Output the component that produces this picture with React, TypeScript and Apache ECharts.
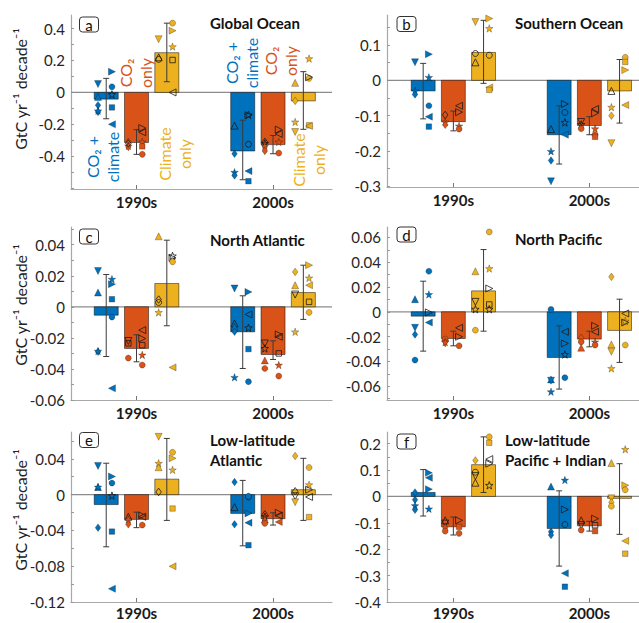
import React, { useEffect, useRef } from "react";
import * as echarts from "echarts";

// ---------- data ----------
const decades = ["1990s", "2000s"];
const experimentLabels = ["CO₂ +\nclimate", "CO₂\nonly", "Climate\nonly"];
const yAxisTitle = "GtC yr⁻¹ decade⁻¹";
const panelLetters = ["a", "b", "c", "d", "e", "f"];
const panelTitles = [
  "Global Ocean",
  "Southern Ocean",
  "North Atlantic",
  "North Pacific",
  "Low-latitude\nAtlantic",
  "Low-latitude\nPacific + Indian",
];

// bar order: 1990s [CO2+climate, CO2 only, Climate only], 2000s [same]
type Pt = [number, "L" | "R", string, number];

const globalBars = [-0.042, -0.314, 0.249, -0.367, -0.327, -0.053];
const globalLow = [-0.165, -0.388, 0.067, -0.547, -0.384, -0.231];
const globalHigh = [0.088, -0.233, 0.434, -0.174, -0.27, 0.13];
const globalPoints: Pt[] = [
  [0, "L", "vF", 0.052], [0, "L", "^F", -0.028], [0, "L", "dF", -0.08], [0, "L", "dF", -0.122], [0, "L", "pF", -0.115],
  [0, "R", ">F", 0.13], [0, "R", "oF", 0.035], [0, "R", "pH", -0.013], [0, "R", "sF", -0.094], [0, "R", "<F", -0.2],
  [1, "L", "dF", -0.31], [1, "L", "pF", -0.335], [1, "L", "dF", -0.342], [1, "L", "dH", -0.32],
  [1, "R", ">H", -0.223], [1, "R", "<H", -0.25], [1, "R", "pF", -0.31], [1, "R", "sF", -0.338], [1, "R", "oF", -0.388],
  [2, "L", "vF", 0.333], [2, "L", "^H", 0.22], [2, "L", "oH", 0.207],
  [2, "R", "oF", 0.434], [2, "R", ">F", 0.387], [2, "R", "pF", 0.287], [2, "R", "sH", 0.203], [2, "R", "<H", 0.0],
  [3, "L", "^H", -0.208], [3, "L", "dF", -0.384], [3, "L", "pF", -0.5], [3, "L", "dF", -0.52],
  [3, "R", ">H", -0.143], [3, "R", "pH", -0.14], [3, "R", "oH", -0.325], [3, "R", "<F", -0.493], [3, "R", "sF", -0.556],
  [4, "L", "dH", -0.31], [4, "L", "pH", -0.32], [4, "L", "pF", -0.335], [4, "L", "dF", -0.367],
  [4, "R", ">H", -0.233], [4, "R", "<H", -0.26], [4, "R", "pF", -0.31], [4, "R", "oF", -0.38],
  [5, "L", "^F", 0.06], [5, "L", "dF", -0.053], [5, "L", "pF", -0.185], [5, "L", "vF", -0.248],
  [5, "R", "pF", 0.212], [5, "R", "oF", 0.088], [5, "R", ">H", 0.095], [5, "R", "sF", -0.206], [5, "R", "<F", -0.21],
];

const southernBars = [-0.03, -0.117, 0.079, -0.154, -0.128, -0.03];
const southernLow = [-0.109, -0.143, -0.0085, -0.237, -0.154, -0.121];
const southernHigh = [0.048, -0.087, 0.17, -0.072, -0.103, 0.059];
const southernPoints: Pt[] = [
  [0, "L", "vF", 0.051], [0, "L", "pF", -0.03], [0, "L", "dF", -0.04],
  [0, "R", ">F", 0.074], [0, "R", "pF", 0.0085], [0, "R", "oF", -0.072], [0, "R", "<F", -0.103], [0, "R", "sF", -0.131],
  [1, "L", "dH", -0.098], [1, "L", "pF", -0.118], [1, "L", "dF", -0.126],
  [1, "R", "<H", -0.072], [1, "R", ">H", -0.09], [1, "R", "pF", -0.129], [1, "R", "oF", -0.138],
  [2, "L", "vF", 0.165], [2, "L", "oH", 0.076], [2, "L", "^H", 0.051],
  [2, "R", ">F", 0.175], [2, "R", "pF", 0.147], [2, "R", "oH", 0.071], [2, "R", "<F", -0.02], [2, "R", "sF", -0.027],
  [3, "L", "^H", -0.138], [3, "L", "pF", -0.201], [3, "L", "dF", -0.227], [3, "L", "vF", -0.286],
  [3, "R", ">H", -0.067], [3, "R", "oH", -0.091], [3, "R", "pH", -0.119], [3, "R", "<F", -0.154],
  [4, "L", "vH", -0.118], [4, "L", "pH", -0.125], [4, "L", "oF", -0.137],
  [4, "R", "<H", -0.081], [4, "R", ">H", -0.093], [4, "R", "pF", -0.137], [4, "R", "oF", -0.154], [4, "R", "sF", -0.16],
  [5, "L", "^H", -0.03], [5, "L", "pF", -0.076], [5, "L", "dF", -0.1], [5, "L", "vF", -0.178],
  [5, "R", "oF", 0.065], [5, "R", "sF", 0.052], [5, "R", ">F", 0.029], [5, "R", "<F", -0.07],
];

const nAtlBars = [-0.0054, -0.0268, 0.015, -0.0161, -0.0307, 0.0092];
const nAtlLow = [-0.032, -0.0354, -0.0122, -0.0397, -0.0339, -0.0081];
const nAtlHigh = [0.0208, -0.018, 0.0429, 0.0071, -0.0219, 0.0268];
const nAtlPoints: Pt[] = [
  [0, "L", "vF", 0.023], [0, "L", "^F", 0.0092], [0, "L", "dF", -0.029], [0, "L", "pF", -0.0285],
  [0, "R", "pF", 0.0178], [0, "R", ">F", 0.0146], [0, "R", "sF", 0.0049], [0, "R", "oF", -0.0066], [0, "R", "<F", -0.0525],
  [1, "L", "vH", -0.022], [1, "L", "sH", -0.0235], [1, "L", "oF", -0.033],
  [1, "R", "<H", -0.015], [1, "R", ">H", -0.0204], [1, "R", "sH", -0.0247], [1, "R", "pF", -0.031], [1, "R", "oF", -0.0375],
  [2, "L", "^F", 0.0454], [2, "L", "dH", 0.0047], [2, "L", "oH", 0.0028], [2, "L", "pF", -0.0036],
  [2, "R", "pH", 0.0328], [2, "R", ">H", 0.0315], [2, "R", "oF", 0.029], [2, "R", "<F", -0.039],
  [3, "L", "vF", 0.0118], [3, "L", "^H", -0.0107], [3, "L", "^F", -0.0129], [3, "L", "dF", -0.016], [3, "L", "pF", -0.0454],
  [3, "R", ">F", 0.0096], [3, "R", "<H", -0.0049], [3, "R", "pH", -0.0135], [3, "R", "sF", -0.0272], [3, "R", "oF", -0.0482],
  [4, "L", "vH", -0.0236], [4, "L", "pH", -0.0268], [4, "L", "^F", -0.0345], [4, "L", "oF", -0.0397],
  [4, "R", ">H", -0.0178], [4, "R", "<H", -0.0193], [4, "R", "sH", -0.03], [4, "R", "pF", -0.0375], [4, "R", "oF", -0.0446],
  [5, "L", "dF", 0.0225], [5, "L", "^F", 0.0139], [5, "L", "vH", 0.0079], [5, "L", "pF", -0.0161],
  [5, "R", ">F", 0.0268], [5, "R", "pF", 0.0186], [5, "R", "<F", 0.0139], [5, "R", "sH", 0.0032], [5, "R", "oF", -0.0036],
];

const nPacBars = [-0.0035, -0.0215, 0.0169, -0.0368, -0.022, -0.015];
const nPacLow = [-0.0317, -0.0274, -0.0156, -0.0623, -0.0282, -0.0408];
const nPacHigh = [0.0247, -0.0156, 0.0502, -0.0113, -0.0156, 0.0102];
const nPacPoints: Pt[] = [
  [0, "L", "^F", 0.0102], [0, "L", "vF", -0.0129], [0, "L", "dF", -0.0183], [0, "L", "oF", -0.0389],
  [0, "R", "oF", 0.0327], [0, "R", "pF", 0.014], [0, "R", ">H", -0.0005], [0, "R", "<F", -0.0086],
  [1, "L", "oF", -0.022], [1, "L", "vF", -0.0255], [1, "L", "pF", -0.0245],
  [1, "R", "<H", -0.0129], [1, "R", ">H", -0.0201], [1, "R", "oF", -0.0274],
  [2, "L", "^F", 0.0327], [2, "L", "vH", 0.008], [2, "L", "pH", 0.0021], [2, "L", "oF", -0.0148],
  [2, "R", "oF", 0.0644], [2, "R", "pF", 0.0349], [2, "R", ">H", 0.0188], [2, "R", "sH", 0.0059], [2, "R", "pH", 0.0021],
  [3, "L", "oF", 0.0019], [3, "L", "^F", -0.0545], [3, "L", "vF", -0.0555], [3, "L", "pF", -0.0644],
  [3, "R", "<H", -0.0161], [3, "R", ">H", -0.0255], [3, "R", "pH", -0.0344], [3, "R", "oF", -0.0531],
  [4, "L", "dF", -0.0209], [4, "L", "oF", -0.0242], [4, "L", "^F", -0.029],
  [4, "R", ">H", -0.0113], [4, "R", "<H", -0.0161], [4, "R", "pF", -0.0242], [4, "R", "oF", -0.0268],
  [5, "L", "dF", 0.0282], [5, "L", "^F", -0.0263], [5, "L", "vF", -0.0322], [5, "L", "pF", -0.0456],
  [5, "R", "<H", -0.0013], [5, "R", "pF", -0.0075], [5, "R", ">H", -0.0086], [5, "R", "oF", -0.0268],
];

const llAtlBars = [-0.0111, -0.0277, 0.0173, -0.021, -0.0269, 0.0055];
const llAtlLow = [-0.0583, -0.0369, -0.0288, -0.0572, -0.034, -0.0288];
const llAtlHigh = [0.0351, -0.0196, 0.0628, 0.0159, -0.0203, 0.0406];
const llAtlPoints: Pt[] = [
  [0, "L", "vF", 0.0321], [0, "L", "^F", 0.0085], [0, "L", "pF", 0.0085], [0, "L", "dF", -0.0369],
  [0, "R", ">F", 0.0203], [0, "R", "oF", 0.0129], [0, "R", "pH", -0.0011], [0, "R", "sF", -0.0413], [0, "R", "<F", -0.1052],
  [1, "L", "^H", -0.0247], [1, "L", "pF", -0.0277], [1, "L", "dF", -0.0332],
  [1, "R", ">H", -0.0233], [1, "R", "<H", -0.0247], [1, "R", "oF", -0.034],
  [2, "L", "vF", 0.0646], [2, "L", "pF", 0.0351], [2, "L", "^F", 0.0306], [2, "L", "dH", 0.003],
  [2, "R", "oF", 0.0473], [2, "R", ">F", 0.0406], [2, "R", "pF", 0.0277], [2, "R", "sF", -0.0155], [2, "R", "<F", -0.0801],
  [3, "L", "dF", 0.014], [3, "L", "^H", -0.014], [3, "L", "dF", -0.0332],
  [3, "R", "oH", -0.0026], [3, "R", "oF", -0.0018], [3, "R", ">F", -0.021], [3, "R", "<F", -0.0314], [3, "R", "sF", -0.0565],
  [4, "L", "dH", -0.0221], [4, "L", "pH", -0.0247], [4, "L", "^F", -0.0277], [4, "L", "oF", -0.0321],
  [4, "R", ">H", -0.0203], [4, "R", "<H", -0.0233], [4, "R", "<F", -0.0306],
  [5, "L", "dF", 0.0432], [5, "L", "dH", 0.0037], [5, "L", "vH", -0.0018], [5, "L", "vF", -0.0085],
  [5, "R", "oF", 0.0303], [5, "R", "pF", 0.0111], [5, "R", ">H", 0.0055], [5, "R", "<H", -0.0026], [5, "R", "sF", -0.0251],
];

const llPacBars = [0.0149, -0.1152, 0.1202, -0.1214, -0.1115, -0.0074];
const llPacLow = [-0.0743, -0.1462, 0.0149, -0.2639, -0.1314, -0.1437];
const llPacHigh = [0.1016, -0.0781, 0.2255, 0.0211, -0.0942, 0.1239];
const llPacPoints: Pt[] = [
  [0, "L", "dF", 0.0149], [0, "L", "dF", -0.0124], [0, "L", "pF", -0.0347], [0, "L", "dF", -0.0508],
  [0, "R", ">F", 0.0892], [0, "R", "<F", 0.0706], [0, "R", ">F", 0.0273], [0, "R", "pF", -0.0471],
  [1, "L", "^H", -0.0905], [1, "L", "vH", -0.1029], [1, "L", "dF", -0.119], [1, "L", "oF", -0.1314],
  [1, "R", ">H", -0.0905], [1, "R", "sF", -0.1152], [1, "R", "oF", -0.14],
  [2, "L", "dF", 0.1363], [2, "L", "oH", 0.0917], [2, "L", "vH", 0.0768], [2, "L", "^H", 0.052],
  [2, "R", "oF", 0.2255], [2, "R", "sF", 0.2032], [2, "R", "<H", 0.1413], [2, "R", ">H", 0.1239], [2, "R", "pH", 0.0421],
  [3, "L", "^F", 0.0372], [3, "L", "dF", -0.1338], [3, "L", "dF", -0.1462],
  [3, "R", "pF", 0.062], [3, "R", ">H", -0.0496], [3, "R", "oH", -0.1066], [3, "R", "<F", -0.2912], [3, "R", "sF", -0.342],
  [4, "L", "^H", -0.0905], [4, "L", "vH", -0.109], [4, "L", "oF", -0.1276],
  [4, "R", ">H", -0.0843], [4, "R", "sH", -0.109], [4, "R", "sF", -0.1314],
  [5, "L", "^F", 0.1264], [5, "L", "vF", -0.0074], [5, "L", "dF", -0.0223], [5, "L", "oF", -0.0372],
  [5, "R", "pF", 0.1784], [5, "R", ">F", 0.0421], [5, "R", "oF", 0.0248], [5, "R", "<F", -0.1685], [5, "R", "sF", -0.2169],
];

// y-axis tick labels
const globalTicks = [-0.4, -0.2, 0, 0.2, 0.4];
const southernTicks = [-0.3, -0.2, -0.1, 0, 0.1];
const nAtlTicks = [-0.06, -0.04, -0.02, 0, 0.02, 0.04];
const nPacTicks = [-0.06, -0.04, -0.02, 0, 0.02, 0.04, 0.06];
const llAtlTicks = [-0.12, -0.08, -0.04, 0, 0.04];
const llPacTicks = [-0.4, -0.3, -0.2, -0.1, 0, 0.1, 0.2];

const panels = [
  { bars: globalBars, low: globalLow, high: globalHigh, points: globalPoints, yMin: -0.605, yMax: 0.485, labels: globalTicks, minor: 0.1 },
  { bars: southernBars, low: southernLow, high: southernHigh, points: southernPoints, yMin: -0.302, yMax: 0.185, labels: southernTicks, minor: 0.05 },
  { bars: nAtlBars, low: nAtlLow, high: nAtlHigh, points: nAtlPoints, yMin: -0.06, yMax: 0.0514, labels: nAtlTicks, minor: 0.01 },
  { bars: nPacBars, low: nPacLow, high: nPacHigh, points: nPacPoints, yMin: -0.0711, yMax: 0.0684, labels: nPacTicks, minor: 0.01 },
  { bars: llAtlBars, low: llAtlLow, high: llAtlHigh, points: llAtlPoints, yMin: -0.12, yMax: 0.07, labels: llAtlTicks, minor: 0.02 },
  { bars: llPacBars, low: llPacLow, high: llPacHigh, points: llPacPoints, yMin: -0.4, yMax: 0.244, labels: llPacTicks, minor: 0.05 },
];

// ---------- layout & style ----------
const layouts = [
  { left: 71, top: 15, width: 261, height: 174, xMin: 0.52, xMax: 2.432, titleX: 210, titleY: 23, boxX: 89, boxY: 24.5, yLabelY: 89, labelMargin: 5 },
  { left: 387, top: 15, width: 252, height: 172, xMin: 0.512, xMax: 2.365, titleX: 515, titleY: 23, boxX: 406.5, boxY: 24, yLabelY: 0, labelMargin: 5 },
  { left: 71, top: 227, width: 261, height: 173, xMin: 0.52, xMax: 2.432, titleX: 210, titleY: 240, boxX: 89, boxY: 236.5, yLabelY: 305, labelMargin: 5 },
  { left: 387, top: 227, width: 252, height: 173, xMin: 0.512, xMax: 2.365, titleX: 515, titleY: 239, boxX: 406.5, boxY: 234.5, yLabelY: 0, labelMargin: 5 },
  { left: 71, top: 432, width: 261, height: 170, xMin: 0.52, xMax: 2.432, titleX: 210, titleY: 450, boxX: 89, boxY: 440, yLabelY: 510, labelMargin: 3 },
  { left: 387, top: 432, width: 252, height: 170, xMin: 0.512, xMax: 2.365, titleX: 505, titleY: 450, boxX: 406.5, boxY: 441.5, yLabelY: 0, labelMargin: 3 },
];

const annotations = [
  { exp: 0, x: 102, y: 157 },
  { exp: 1, x: 135, y: 73 },
  { exp: 2, x: 174, y: 154 },
  { exp: 0, x: 241, y: 63 },
  { exp: 1, x: 280, y: 61 },
  { exp: 2, x: 308, y: 160 },
];

const FONT = "Lato, 'Noto Sans', sans-serif";
const barColors = ["#0072BD", "#D95319", "#EDB120"];
const AXIS = "#a8a8a8";
const BAR_STEP = 0.222;
const BAR_HALF = 0.088;
const SIDE_OFF = { L: -0.06, R: 0.042 };
const STAR =
  "path://M50 0L61.76 33.82L97.55 34.55L69.02 56.18L79.39 90.45L50 70L20.61 90.45L30.98 56.18L2.45 34.55L38.24 33.82Z";
const markerDefs: Record<string, { symbol: string; rotate: number; size: number | number[] }> = {
  v: { symbol: "triangle", rotate: 180, size: 7 },
  "^": { symbol: "triangle", rotate: 0, size: 7 },
  "<": { symbol: "triangle", rotate: 90, size: 7 },
  ">": { symbol: "triangle", rotate: -90, size: 7 },
  o: { symbol: "circle", rotate: 0, size: 6 },
  s: { symbol: "rect", rotate: 0, size: 5.5 },
  d: { symbol: "diamond", rotate: 0, size: [5.5, 7.5] },
  p: { symbol: STAR, rotate: 0, size: 7.5 },
};

const fmt = (v: number) => String(parseFloat(v.toFixed(4)));
const barX = (bar: number) => (bar < 3 ? 1 : 2) + ((bar % 3) - 1) * BAR_STEP;

function buildOption() {
  const grid: any[] = [];
  const xAxis: any[] = [];
  const yAxis: any[] = [];
  const series: any[] = [];
  const graphic: any[] = [];

  panels.forEach((p, i) => {
    const L = layouts[i];
    grid.push({ left: L.left, top: L.top, width: L.width, height: L.height, containLabel: false, outerBoundsMode: "none" });
    xAxis.push({
      type: "value",
      gridIndex: i,
      min: L.xMin,
      max: L.xMax,
      axisLine: { show: true, onZero: false, lineStyle: { color: AXIS, width: 1.2 } },
      axisTick: { show: true, inside: true, length: 4, customValues: [1, 2], lineStyle: { color: "#777" } },
      axisLabel: {
        customValues: [1, 2],
        formatter: (v: number) => decades[Math.round(v) - 1],
        fontWeight: "bold",
        fontSize: 15,
        lineHeight: 16,
        color: "#1a1a1a",
        margin: L.labelMargin,
        fontFamily: FONT,
      },
      splitLine: { show: false },
    });
    const ticks: number[] = [];
    const start = Math.ceil((p.yMin - 1e-9) / p.minor);
    const end = Math.floor((p.yMax + 1e-9) / p.minor);
    for (let k = start; k <= end; k++) ticks.push(parseFloat((k * p.minor).toFixed(4)));
    yAxis.push({
      type: "value",
      gridIndex: i,
      min: p.yMin,
      max: p.yMax,
      axisLine: { show: true, lineStyle: { color: AXIS, width: 1.2 } },
      axisTick: { show: true, inside: true, length: 3, customValues: ticks, lineStyle: { color: "#999" } },
      axisLabel: { customValues: p.labels, formatter: fmt, fontSize: 15, color: "#262626", margin: 6, fontFamily: FONT },
      splitLine: { show: false },
    });

    // zero line
    series.push({
      type: "line",
      xAxisIndex: i,
      yAxisIndex: i,
      data: [[L.xMin, 0], [L.xMax, 0]],
      symbol: "none",
      silent: true,
      lineStyle: { color: "#8c8c8c", width: 1.2 },
      z: 1,
    });

    // bars
    series.push({
      type: "custom",
      xAxisIndex: i,
      yAxisIndex: i,
      z: 2,
      silent: true,
      data: p.bars.map((v, b) => [barX(b), v, b % 3]),
      renderItem: (_params: any, api: any) => {
        const x = api.value(0);
        const v = api.value(1);
        const c = api.value(2);
        const p0 = api.coord([x - BAR_HALF, 0]);
        const p1 = api.coord([x + BAR_HALF, v]);
        return {
          type: "rect",
          shape: { x: p0[0], y: Math.min(p0[1], p1[1]), width: p1[0] - p0[0], height: Math.abs(p1[1] - p0[1]) },
          style: { fill: barColors[c], stroke: "rgba(0,0,0,0.6)", lineWidth: 0.8 },
        };
      },
    });

    // error bars
    series.push({
      type: "custom",
      xAxisIndex: i,
      yAxisIndex: i,
      z: 3,
      silent: true,
      data: p.bars.map((_v, b) => [barX(b), p.low[b], p.high[b]]),
      renderItem: (_params: any, api: any) => {
        const x = api.value(0);
        const pl = api.coord([x, api.value(1)]);
        const ph = api.coord([x, api.value(2)]);
        const st = { stroke: "#3a3a3a", lineWidth: 1 };
        return {
          type: "group",
          children: [
            { type: "line", shape: { x1: pl[0], y1: pl[1], x2: ph[0], y2: ph[1] }, style: st },
            { type: "line", shape: { x1: pl[0] - 3, y1: pl[1], x2: pl[0] + 3, y2: pl[1] }, style: st },
            { type: "line", shape: { x1: ph[0] - 3, y1: ph[1], x2: ph[0] + 3, y2: ph[1] }, style: st },
          ],
        };
      },
    });

    // model markers
    series.push({
      type: "scatter",
      xAxisIndex: i,
      yAxisIndex: i,
      z: 4,
      silent: true,
      data: p.points.map(([bar, side, mk, v]) => {
        const def = markerDefs[mk[0]];
        const filled = mk[1] === "F";
        return {
          value: [barX(bar) + SIDE_OFF[side], v],
          symbol: def.symbol,
          symbolSize: def.size,
          symbolRotate: def.rotate,
          itemStyle: filled
            ? { color: barColors[bar % 3], borderColor: "rgba(0,0,0,0.55)", borderWidth: 0.5, opacity: 1 }
            : { color: "rgba(0,0,0,0)", borderColor: "#1a1a1a", borderWidth: 0.8, opacity: 1 },
        };
      }),
    });

    // title
    graphic.push({
      type: "text",
      x: L.titleX,
      y: L.titleY,
      silent: true,
      style: {
        text: panelTitles[i],
        font: `bold 15px ${FONT}`,
        fill: "#111",
        align: "left",
        verticalAlign: "middle",
        lineHeight: 20,
      },
    });
    // panel letter box
    graphic.push({
      type: "rect",
      silent: true,
      shape: { x: L.boxX - 9.5, y: L.boxY - 7.5, width: 19, height: 15, r: 3 },
      style: { fill: "#fff", stroke: "#333", lineWidth: 1 },
      z: 10,
    });
    graphic.push({
      type: "text",
      silent: true,
      x: L.boxX,
      y: L.boxY,
      z: 11,
      style: { text: panelLetters[i], font: `15px ${FONT}`, fill: "#111", align: "center", verticalAlign: "middle" },
    });
    // y-axis title (left column)
    if (L.yLabelY) {
      graphic.push({
        type: "text",
        silent: true,
        x: 20,
        y: L.yLabelY,
        rotation: Math.PI / 2,
        style: { text: yAxisTitle, font: `16px ${FONT}`, fill: "#222", align: "center", verticalAlign: "middle" },
      });
    }
  });

  annotations.forEach((a) => {
    graphic.push({
      type: "text",
      silent: true,
      x: a.x,
      y: a.y,
      rotation: Math.PI / 2,
      z: 12,
      style: {
        text: experimentLabels[a.exp],
        font: `16px ${FONT}`,
        fill: barColors[a.exp],
        align: "center",
        verticalAlign: "middle",
        lineHeight: 20,
      },
    });
  });

  return {
    animation: false,
    backgroundColor: "#ffffff",
    textStyle: { fontFamily: FONT },
    grid,
    xAxis,
    yAxis,
    series,
    graphic,
  };
}

export default function App() {
  const ref = useRef<HTMLDivElement>(null);
  useEffect(() => {
    if (!ref.current) return;
    const chart = echarts.init(ref.current, null, { renderer: "svg" });
    chart.setOption(buildOption() as any);
    return () => chart.dispose();
  }, []);
  return (
    <div
      ref={ref}
      style={{ position: "fixed", left: 0, top: 0, width: 639, height: 623, background: "#fff" }}
    />
  );
}
